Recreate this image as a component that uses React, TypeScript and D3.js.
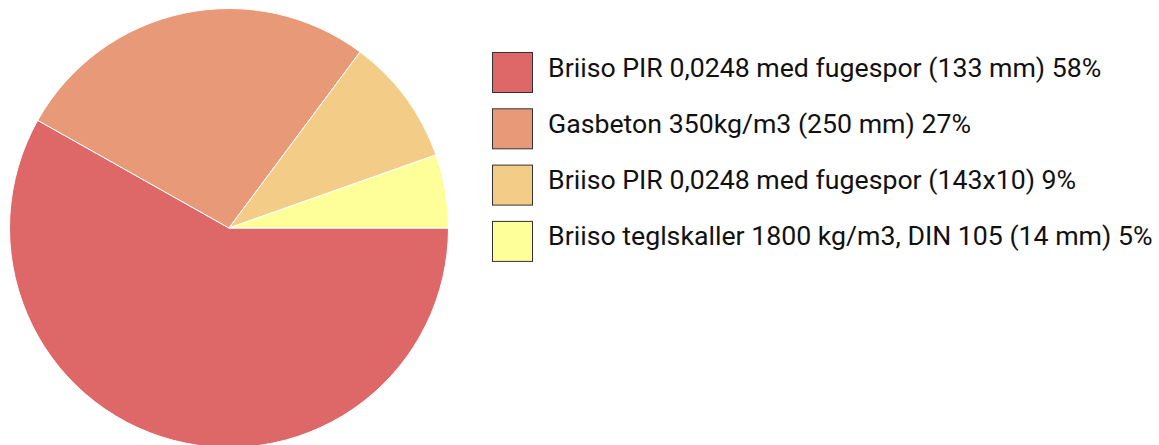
import React from "react";
import * as d3 from "d3";

// Slice shares (legend shows rounded values)
const labels = [
  "Briiso PIR 0,0248 med fugespor (133 mm)",
  "Gasbeton 350kg/m3 (250 mm)",
  "Briiso PIR 0,0248 med fugespor (143x10)",
  "Briiso teglskaller 1800 kg/m3, DIN 105 (14 mm)",
];
const values = [58.1, 27.0, 9.4, 5.4];
const percentLabels = ["58%", "27%", "9%", "5%"];
const colors = ["#de6868", "#e89a78", "#f3cc88", "#ffff99"];

const width = 1159;
const height = 445;

export default function App() {
  const cx = 229;
  const cy = 228;
  const radius = 219.5;

  const pie = d3
    .pie<number>()
    .sort(null)
    .startAngle(Math.PI / 2)
    .endAngle(Math.PI / 2 + 2 * Math.PI);
  const arcs = pie(values);
  const arc = d3.arc<d3.PieArcDatum<number>>().innerRadius(0).outerRadius(radius);

  const legendX = 492;
  const legendY = 52;
  const step = 56.3;
  const box = 40;

  return (
    <svg
      width={width}
      height={height}
      style={{ position: "absolute", left: 0, top: 0 }}
      fontFamily="Roboto, sans-serif"
    >
      <g transform={`translate(${cx},${cy})`}>
        {arcs.map((d, i) => (
          <path key={i} d={arc(d) || ""} fill={colors[i]} stroke="#fff" strokeWidth={1} />
        ))}
      </g>
      <g>
        {labels.map((l, i) => {
          const y = legendY + i * step;
          return (
            <g key={i} transform={`translate(${legendX},${y})`}>
              <rect x={0.5} y={0.5} width={box} height={box} fill={colors[i]} stroke="#333" strokeWidth={1} />
              <text x={56} y={24.5} fontSize={26.7} fill="#111">
                {`${l} ${percentLabels[i]}`}
              </text>
            </g>
          );
        })}
      </g>
    </svg>
  );
}
